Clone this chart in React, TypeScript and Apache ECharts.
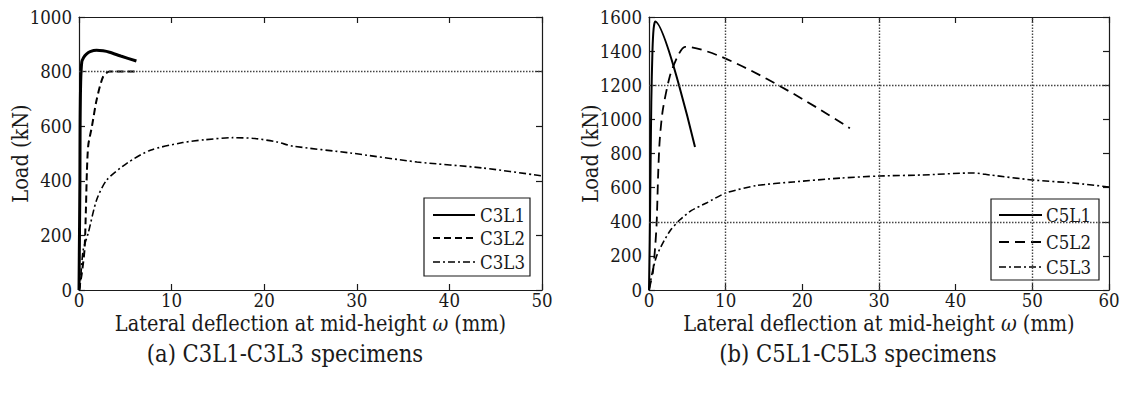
import React, { useEffect, useRef } from "react";
import * as echarts from "echarts";

// Load–deflection curves, [deflection (mm), load (kN)]
const c3l1: number[][] = [
  [0, 0], [0.05, 200], [0.1, 400], [0.12, 600], [0.18, 760], [0.3, 835], [0.5, 852],
  [0.8, 864], [1.2, 873], [1.9, 878], [2.6, 876], [3.3, 871], [4.5, 857], [6.2, 839],
];
const c3l2: number[][] = [
  [0, 0], [0.3, 60], [0.6, 150], [0.75, 300], [0.85, 430], [1.0, 530], [1.4, 600],
  [1.9, 696], [2.6, 781], [3.3, 800], [6.0, 800],
];
const c3l3: number[][] = [
  [0, 0], [0.1, 11], [0.45, 146], [1.0, 209], [1.9, 330], [3.0, 403], [5.2, 465],
  [7.7, 512], [11.2, 540], [13.5, 550], [16.6, 558], [19, 555], [21.4, 542], [23.1, 527],
  [29.3, 502], [36.5, 469], [43.6, 447], [50, 418],
];
const c5l1: number[][] = [
  [0, 0], [0.1, 300], [0.2, 700], [0.3, 1100], [0.45, 1400], [0.6, 1530], [0.8, 1573], [6.0, 838],
];
const c5l2: number[][] = [
  [0, 0], [0.2, 40], [0.5, 100], [0.8, 250], [1.0, 393], [1.2, 686], [1.4, 879],
  [1.8, 1055], [2.7, 1250], [3.7, 1366], [4.7, 1425], [26.2, 948],
];
const c5l3: number[][] = [
  [0, 0], [0.2, 50], [0.5, 117], [1.0, 200], [1.8, 275], [2.8, 350], [4, 410], [5.5, 465],
  [7.5, 510], [10, 568], [14, 612], [18.8, 633], [25, 656], [30, 668], [35.6, 674],
  [42.3, 686], [44.5, 674], [50, 645], [55.3, 627], [60, 604],
];

// Axis ticks
const leftXTicks = [0, 10, 20, 30, 40, 50];
const leftYTicks = [0, 200, 400, 600, 800, 1000];
const rightXTicks = [0, 10, 20, 30, 40, 50, 60];
const rightYTicks = [0, 200, 400, 600, 800, 1000, 1200, 1400, 1600];

// Reference / grid lines
const leftRefY = [800];
const rightGridX = [10, 30, 50];
const rightGridY = [400, 1200];

const leftNames = ["C3L1", "C3L2", "C3L3"];
const rightNames = ["C5L1", "C5L2", "C5L3"];
const captions = ["(a) C3L1-C3L3 specimens", "(b) C5L1-C5L3 specimens"];
const xTitle = "Lateral deflection at mid-height {i|ω} (mm)";
const yTitle = "Load (kN)";

const FONT = "DejaVu Serif Condensed";
const INK = "#1a1a1a";

// Line looks shared by the curves and their legend samples
const STYLES = [
  { width: 3, dash: null as number[] | null },
  { width: 2, dash: [7, 4] },
  { width: 1.6, dash: [7, 3, 2, 3] },
];
const STYLES_R = [
  { width: 2, dash: null as number[] | null },
  { width: 1.8, dash: [10, 6] },
  { width: 1.6, dash: [7, 3, 2, 3] },
];

const dotted = { color: "#444", width: 1.4, type: [1.5, 1.5] as number[] };

function axisPair(ticks: number[], kind: "x" | "y") {
  const min = ticks[0];
  const max = ticks[ticks.length - 1];
  const interval = ticks[1] - ticks[0];
  const base = {
    type: "value" as const,
    min,
    max,
    interval,
    axisLine: { show: true, onZero: false, lineStyle: { color: INK, width: 1.2 } },
    axisTick: { show: true, inside: true, length: 6, lineStyle: { color: INK, width: 1.2 } },
    splitLine: { show: false },
  };
  const main = {
    ...base,
    position: kind === "x" ? "bottom" : "left",
    axisLabel: {
      show: true,
      color: INK,
      fontFamily: FONT,
      fontSize: 18.5,
      margin: kind === "x" ? 1 : 7,
      formatter: (v: number) => String(v),
    },
    name: kind === "x" ? xTitle : yTitle,
    nameLocation: "middle",
    nameMoveOverlap: false,
    nameGap: kind === "x" ? 22 : 48,
    nameTextStyle: {
      color: INK,
      fontFamily: FONT,
      fontSize: 21.5,
      rich: { i: { fontStyle: "italic", fontFamily: FONT, fontSize: 21.5, color: INK } },
    },
  };
  const mirror = {
    ...base,
    position: kind === "x" ? "top" : "right",
    axisLabel: { show: false },
  };
  return [main, mirror];
}

function refLines(xs: number[], ys: number[]) {
  return {
    silent: true,
    symbol: "none",
    label: { show: false },
    lineStyle: dotted,
    data: [...xs.map((v) => ({ xAxis: v })), ...ys.map((v) => ({ yAxis: v }))],
  };
}

function legendBox(
  names: string[],
  styles: { width: number; dash: number[] | null }[],
  box: { x: number; y: number; w: number; h: number },
  rows: number[],
  lineX: [number, number],
  textX: number
) {
  const children: any[] = [
    {
      type: "rect",
      shape: { x: box.x, y: box.y, width: box.w, height: box.h },
      style: { fill: "#fff", stroke: INK, lineWidth: 1.2 },
    },
  ];
  names.forEach((n, i) => {
    children.push({
      type: "line",
      shape: { x1: lineX[0], y1: rows[i], x2: lineX[1], y2: rows[i] },
      style: {
        stroke: "#000",
        lineWidth: Math.min(styles[i].width, 2.2),
        lineDash: styles[i].dash || undefined,
      },
    });
    children.push({
      type: "text",
      x: textX,
      y: rows[i],
      style: { text: n, fill: INK, fontFamily: FONT, fontSize: 18.5, verticalAlign: "middle" },
    });
  });
  return { type: "group", z: 10, children };
}

export default function App() {
  const ref = useRef<HTMLDivElement>(null);

  useEffect(() => {
    if (!ref.current) return;
    const chart = echarts.init(ref.current, undefined, { renderer: "svg" });

    const [lx, lx2] = axisPair(leftXTicks, "x");
    const [rx, rx2] = axisPair(rightXTicks, "x");
    const [ly, ly2] = axisPair(leftYTicks, "y");
    const [ry, ry2] = axisPair(rightYTicks, "y");

    const line = (
      name: string,
      data: number[][],
      axis: number,
      st: { width: number; dash: number[] | null },
      extra: any = {}
    ) => ({
      name,
      type: "line",
      data,
      xAxisIndex: axis,
      yAxisIndex: axis,
      symbol: "none",
      showSymbol: false,
      smooth: 0.25,
      lineStyle: { color: "#000", width: st.width, type: st.dash || "solid" },
      itemStyle: { color: "#000" },
      z: 3,
      ...extra,
    });

    const captionStyle = { fontFamily: FONT, fontSize: 23.5, fontWeight: "normal", color: INK };

    chart.setOption({
      animation: false,
      backgroundColor: "#fff",
      textStyle: { fontFamily: FONT },
      title: [
        { text: captions[0], left: 280, top: 337, textAlign: "center", textStyle: captionStyle },
        { text: captions[1], left: 853, top: 337, textAlign: "center", textStyle: captionStyle },
      ],
      grid: [
        { left: 79, top: 17, width: 463, height: 273 },
        { left: 649, top: 17, width: 460, height: 273 },
      ],
      xAxis: [lx, rx, lx2, rx2].map((a, i) => ({ ...a, gridIndex: i % 2 })),
      yAxis: [ly, ry, ly2, ry2].map((a, i) => ({ ...a, gridIndex: i % 2 })),
      graphic: [
        legendBox(leftNames, STYLES, { x: 424, y: 198, w: 106, h: 78 },
          [215, 238, 262], [433, 475], 480),
        legendBox(rightNames, STYLES_R, { x: 991, y: 199, w: 108, h: 81 },
          [215, 242, 267], [999, 1042], 1046),
      ],
      series: [
        line(leftNames[0], c3l1, 0, STYLES[0], { markLine: refLines([], leftRefY) }),
        line(leftNames[1], c3l2, 0, STYLES[1]),
        line(leftNames[2], c3l3, 0, STYLES[2]),
        line(rightNames[0], c5l1, 1, STYLES_R[0], { markLine: refLines(rightGridX, rightGridY) }),
        line(rightNames[1], c5l2, 1, STYLES_R[1]),
        line(rightNames[2], c5l3, 1, STYLES_R[2]),
      ],
    });

    return () => chart.dispose();
  }, []);

  return (
    <div
      ref={ref}
      style={{ position: "fixed", left: 0, top: 0, width: 1131, height: 400, background: "#fff" }}
    />
  );
}
